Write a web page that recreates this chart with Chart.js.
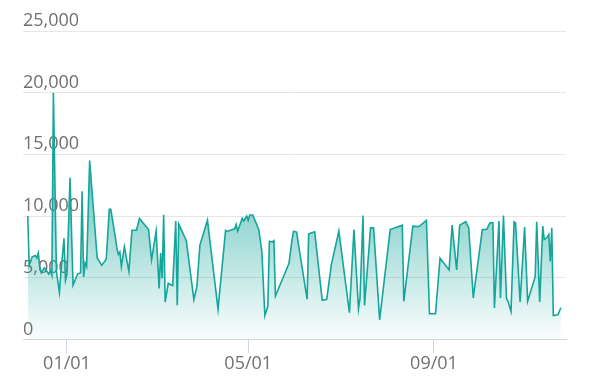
<!DOCTYPE html>
<html>
<head>
<meta charset="utf-8">
<script src="https://cdn.jsdelivr.net/npm/chart.js@4"></script>
<style>
  html, body { margin: 0; padding: 0; background: #fff; }
  #wrap { width: 595px; height: 389px; }
</style>
</head>
<body>
<div id="wrap"><canvas id="visitsChart" width="595" height="389"></canvas></div>
<script>
  // days counted from 01/01, values per day
  const days = [
    -26, -25, -23, -21, -20, -19, -18, -17, -15, -12, -11, -10, -9, -7, -5, -4, -2, -1,
    0, 2, 4, 6, 7, 9, 10, 11, 12, 13, 15, 20, 22, 23, 26, 28, 29, 32, 33, 34, 35, 36,
    38, 41, 43, 46, 48, 54, 56, 59, 61, 62, 63, 64, 65, 67, 70, 72, 73, 74, 79, 84,
    86, 88, 93, 100, 105, 106, 111, 112, 113, 116, 117, 119, 120, 121, 123, 127, 129, 131,
    133, 134, 136, 137, 138, 147, 149, 150, 152, 159, 160, 164, 169, 172, 175, 180, 187, 190,
    193, 194, 196, 197, 201, 203, 207, 214, 222, 223, 229, 233, 238, 240, 244, 247, 253, 255,
    258, 260, 264, 266, 269, 275, 278, 280, 282, 283, 286, 287, 289, 291, 292, 294, 296, 297,
    300, 303, 305, 310, 311, 313, 315, 316, 318, 319, 320, 321, 322, 325, 327
  ];
  const visits = [
    10000, 6000, 6700, 6800, 6600, 7000, 5800, 5400, 5800, 5300, 5600, 5200, 20000, 5500, 3800, 5500, 8200, 4800,
    5300, 13100, 4400, 5000, 5300, 5400, 12000, 5050, 6200, 5900, 14500, 6600, 6200, 6000, 6500, 10550, 10550, 8300, 7400, 6900, 7100, 5900,
    7500, 5500, 8850, 8850, 9800, 8900, 6450, 8770, 4130, 7000, 4950, 10100, 3030, 4530, 4370, 9600, 2760, 9350, 8000, 3230,
    4260, 7650, 9660, 2450, 8830, 8750, 8960, 9320, 8770, 9810, 9600, 10000, 9650, 10080, 10080, 8900, 7130, 1940,
    2700, 7950, 7900, 8000, 3520, 6170, 8090, 8770, 8700, 3250, 8550, 8720, 3170, 3250, 6040, 8770, 2160, 8900,
    2490, 3300, 10050, 2760, 9040, 9040, 1590, 8900, 9260, 3090, 9180, 9150, 9650, 2080, 2080, 6580, 5630, 9260,
    5630, 9260, 9540, 9040, 3360, 8900, 8930, 9450, 9450, 2540, 9590, 3360, 10050, 3300, 3090, 2270, 9540, 9450,
    3030, 9100, 3090, 5080, 9540, 3030, 9180, 8090, 8280, 8500, 6310, 9040, 1940, 1990, 2570
  ];
  const tickDays   = [0, 120, 243];
  const tickLabels = ['01/01', '05/01', '09/01'];

  const lineColor = '#14a59b';
  const axisColor = '#cfd6e3';
  const font = { family: 'Open Sans', size: 18 };

  const points = days.map((d, i) => ({ x: d, y: visits[i] }));

  new Chart(document.getElementById('visitsChart'), {
    type: 'line',
    data: {
      datasets: [{
        data: points,
        borderColor: lineColor,
        borderWidth: 1.6,
        pointRadius: 0,
        tension: 0,
        fill: 'origin',
        backgroundColor: (ctx) => {
          const chart = ctx.chart;
          const area = chart.chartArea;
          if (!area) return 'rgba(20,165,155,0.3)';
          const top = chart.scales.y.getPixelForValue(20000);
          const g = chart.ctx.createLinearGradient(0, top, 0, area.bottom);
          g.addColorStop(0, 'rgba(20,165,155,0.9)');
          g.addColorStop(1, 'rgba(20,165,155,0.02)');
          return g;
        }
      }]
    },
    options: {
      responsive: false,
      animation: false,
      layout: { padding: { left: 23, right: 29, top: 31, bottom: 14 } },
      plugins: { legend: { display: false }, tooltip: { enabled: false } },
      scales: {
        x: {
          type: 'linear',
          min: -29.13,
          max: 330.4,
          afterBuildTicks: (scale) => {
            scale.ticks = tickDays.map(v => ({ value: v }));
          },
          grid: { drawOnChartArea: false, tickLength: 14, color: axisColor },
          border: { color: axisColor, width: 1 },
          ticks: {
            autoSkip: false,
            maxRotation: 0,
            padding: 0,
            color: '#707070',
            font: font,
            callback: (v, i) => tickLabels[i]
          }
        },
        y: {
          min: 0,
          max: 25000,
          grid: { color: '#e6e6e6', drawTicks: false },
          border: { display: false },
          ticks: {
            stepSize: 5000,
            mirror: true,
            padding: 0,
            labelOffset: -10,
            color: '#707070',
            font: font,
            callback: (v) => v.toLocaleString('en-US')
          }
        }
      }
    }
  });
</script>
</body>
</html>
